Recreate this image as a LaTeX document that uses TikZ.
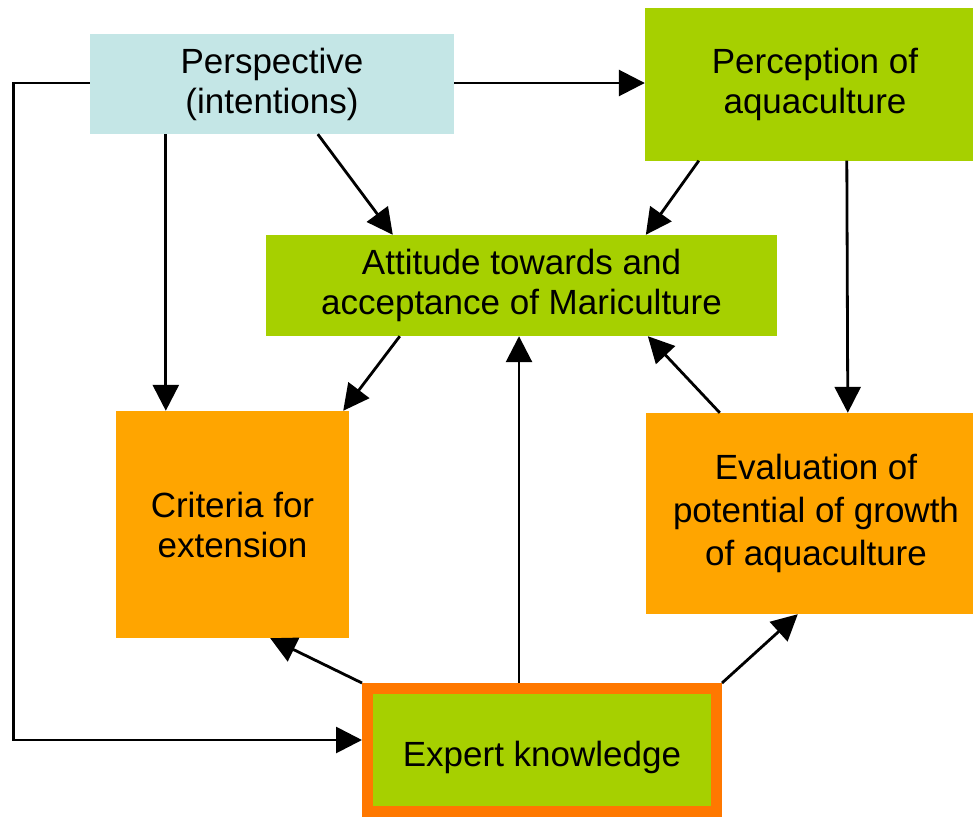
\documentclass[tikz,border=0pt]{standalone}
\usepackage{fontspec}
\setmainfont{Liberation Sans}
\usetikzlibrary{arrows.meta,calc}
\definecolor{lblue}{RGB}{196,230,230}
\definecolor{lgreen}{RGB}{166,208,0}
\definecolor{lorange}{RGB}{255,165,0}
\definecolor{dorange}{RGB}{255,120,0}
\tikzset{
  box/.style={rectangle, inner sep=0pt, align=center, font=\fontsize{35}{40}\selectfont, text=black},
  arr/.style={draw=black, line width=2.8pt, -{Triangle[length=26pt,width=26pt]}}
}
\begin{document}
\begin{tikzpicture}[x=1pt,y=-1pt]
\useasboundingbox (0,0) rectangle (973,816);
\node[box, fill=lblue, minimum width=364pt, minimum height=100pt] (persp) at (272,84) {Perspective\\(intentions)};
\node[box, fill=lgreen, minimum width=340pt, minimum height=152pt] (perc) at (815,84.5) {Perception of\\aquaculture};
\node[box, fill=lgreen, minimum width=511pt, minimum height=101pt] (att) at (521.5,285.5) {Attitude towards and\\acceptance of Mariculture};
\node[box, fill=lorange, minimum width=233pt, minimum height=227pt] (crit) at (232.5,524.5) {Criteria for\\extension};
\node[box, fill=lorange, minimum width=340pt, minimum height=201pt, font=\fontsize{35}{43}\selectfont] (eval) at (816,513.5) {Evaluation of\\potential of growth\\of aquaculture};
\node[box, fill=lgreen, draw=dorange, line width=11pt, minimum width=349pt, minimum height=123pt, text height=40pt, text depth=8pt] (expert) at (542,750) {Expert knowledge};

\draw[arr] (persp.east |- 0,83) -- (perc.west |- 0,83);
\draw[arr] (persp.west |- 0,83) -- ++(-76,0) |- ([yshift=10pt]expert.west);
\draw[arr] ($(persp.south west)+(76,0)$) -- ($(crit.north west)+(50,0)$);
\draw[arr] ($(persp.south west)+(228,0)$) -- ($(att.north west)+(127,0)$);
\draw[arr] ($(perc.south west)+(54,0)$) -- ($(att.north west)+(380,0)$);
\draw[arr] ($(perc.south west)+(202,0)$) -- ($(eval.north west)+(202,0)$);
\draw[arr] ($(att.south west)+(134,0)$) -- ($(crit.north east)+(-6,0)$);
\draw[arr] ($(eval.north west)+(74,0)$) -- ($(att.south west)+(382,0)$);
\draw[arr] ($(expert.north)+(-23,0)$) -- ($(att.south)+(-2.5,0)$);
\draw[arr] (expert.north west) -- ($(crit.south east)+(-79,0)$);
\draw[arr] (expert.north east) -- ($(eval.south west)+(152,0)$);
\end{tikzpicture}
\end{document}
